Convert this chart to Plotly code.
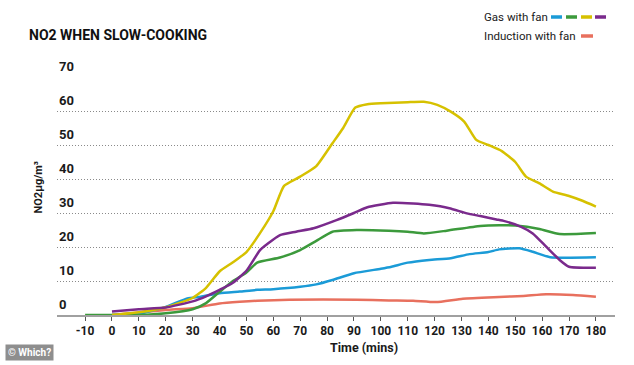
import plotly.graph_objects as go

# ---- data ----
yellow_t = [0, 10, 20, 30, 35, 40, 45, 50, 55, 60, 64, 70, 76, 82, 86, 90.5, 95, 100, 110, 116, 121, 126, 131, 135.5, 140, 145, 150, 154, 159, 164, 170, 175, 180]
yellow_v = [0, 0.8, 2.3, 5, 8, 12.8, 15.5, 18.5, 24, 30.5, 38, 40.7, 43.8, 50.5, 55, 61, 62, 62.3, 62.6, 62.7, 61.8, 59.8, 56.9, 51.5, 50, 48.2, 45, 40.7, 38.7, 36.3, 35, 33.6, 31.9]

purple_t = [0, 10, 20, 30, 35, 40, 45, 50, 55, 58, 62.5, 68.5, 75, 83.5, 90, 95, 104.5, 112, 118, 125.5, 132, 137, 143, 146, 152, 156.5, 161.5, 166.5, 170, 180]
purple_v = [1, 1.7, 2.2, 4, 5.5, 7.4, 9.5, 13, 19, 21, 23.5, 24.5, 25.5, 27.9, 30, 31.7, 33, 32.8, 32.4, 31.4, 29.9, 29.1, 28.1, 27.6, 26, 24, 20.1, 16.2, 14.2, 13.9]

green_t = [-10, 0, 10, 20, 30, 35, 40, 45, 50, 54, 62.5, 70, 76, 82, 91, 103, 110, 116, 124.5, 137, 144, 150, 159, 166.5, 180]
green_v = [0, 0, 0, 0.5, 1.7, 3.5, 6.8, 10, 12.5, 15.4, 16.9, 19.1, 21.8, 24.5, 25, 24.8, 24.5, 24, 24.8, 26.2, 26.4, 26.3, 25.3, 23.8, 24.1]

blue_t = [0, 10, 20, 28, 33, 40, 47.5, 54, 60, 70, 76, 82, 90, 100, 104, 110, 118, 126, 133, 140, 144, 151.5, 156.5, 163, 180]
blue_v = [0, 0.4, 2.4, 4.9, 5.4, 6.4, 6.9, 7.4, 7.6, 8.3, 9, 10.3, 12.3, 13.6, 14.2, 15.4, 16.2, 16.7, 17.9, 18.5, 19.3, 19.6, 18.6, 17, 17]

red_t = [0, 10, 20, 30, 40, 47.5, 54, 66, 91, 103, 112, 120.5, 130.5, 144, 153, 161.5, 171.5, 180]
red_v = [0, 0.7, 1.5, 2, 3.4, 3.9, 4.2, 4.5, 4.5, 4.3, 4.2, 3.8, 4.8, 5.3, 5.6, 6.1, 5.9, 5.4]

x_ticks = list(range(-10, 181, 10))
y_ticks = [0, 10, 20, 30, 40, 50, 60, 70]

C_BLUE = "#1b9bd7"
C_GREEN = "#3c9a3c"
C_YELLOW = "#d6c100"
C_PURPLE = "#7a2a8c"
C_RED = "#e8705e"

series = [
    ("Induction with fan", red_t, red_v, C_RED),
    ("Gas with fan (blue)", blue_t, blue_v, C_BLUE),
    ("Gas with fan (green)", green_t, green_v, C_GREEN),
    ("Gas with fan (yellow)", yellow_t, yellow_v, C_YELLOW),
    ("Gas with fan (purple)", purple_t, purple_v, C_PURPLE),
]

fig = go.Figure()
for name, t, v, c in series:
    fig.add_trace(go.Scatter(x=t, y=v, mode="lines", name=name,
                             line=dict(color=c, width=2.5, shape="spline", smoothing=0.5),
                             showlegend=False, hoverinfo="skip"))

W, H = 634, 365
L, R, T, B = 57, 19, 77, 50
pw, ph = W - L - R, H - T - B

def px(xp):
    return (xp - L) / pw

def py(yp):
    return (H - B - yp) / ph

TXT = "#1a1a1a"
fig.update_layout(
    width=W, height=H,
    margin=dict(l=L, r=R, t=T, b=B, autoexpand=False),
    paper_bgcolor="white", plot_bgcolor="white",
    font=dict(family="Roboto, Liberation Sans, sans-serif", color=TXT),
    title=dict(text="NO2 WHEN SLOW-COOKING", x=29 / W, xanchor="left", y=1 - 35 / H, yanchor="middle",
               font=dict(family="Roboto, sans-serif", size=14, weight="bold", color="#111")),
)
fig.update_xaxes(range=[-20.45, 187.1], tickvals=x_ticks, ticktext=[str(v) for v in x_ticks],
                 showgrid=False, zeroline=False, showline=True, linecolor="#a0a0a0", linewidth=2,
                 ticks="outside", ticklen=4, tickcolor="#555", tickwidth=1,
                 tickfont=dict(size=12, weight="bold", color=TXT))
fig.update_yaxes(range=[0, 70], tickvals=y_ticks, showticklabels=False, showgrid=True,
                 gridcolor="#8a8a8a", griddash="1px,2px", gridwidth=1, zeroline=False, showline=False)

# y tick labels above gridlines
for v in y_ticks:
    fig.add_annotation(x=0, xref="paper", xanchor="left", y=v, yref="y", yanchor="middle", yshift=11,
                       text=str(v), showarrow=False, font=dict(size=13, weight="bold", color=TXT))

# axis titles
fig.add_annotation(x=px(364), y=py(347), xref="paper", yref="paper", yanchor="middle", text="Time (mins)",
                   showarrow=False, font=dict(size=12.5, weight="bold", color=TXT))
fig.add_annotation(x=px(29), y=py(188), xref="paper", yref="paper", text="NO2µg/m³", textangle=-90,
                   showarrow=False, font=dict(size=11, weight="bold", color=TXT))

# legend
LEG_FONT = dict(family="Roboto, sans-serif", size=11.5, color=TXT)
fig.add_annotation(x=px(483), y=py(17), xref="paper", yref="paper", xanchor="left", yanchor="middle",
                   text="Gas with fan", showarrow=False, font=LEG_FONT, borderpad=0)
fig.add_annotation(x=px(483), y=py(36), xref="paper", yref="paper", xanchor="left", yanchor="middle",
                   text="Induction with fan", showarrow=False, font=LEG_FONT, borderpad=0)
gas_swatches = [(551, C_BLUE), (566, C_GREEN), (581, C_YELLOW), (595, C_PURPLE)]
for x0, c in gas_swatches:
    fig.add_shape(type="line", xref="paper", yref="paper", x0=px(x0), x1=px(x0 + 11), y0=py(17), y1=py(17),
                  line=dict(color=c, width=3.5))
fig.add_shape(type="line", xref="paper", yref="paper", x0=px(581), x1=px(593), y0=py(36), y1=py(36),
              line=dict(color=C_RED, width=3.5))

# watermark
fig.add_annotation(x=px(5), y=py(353), xref="paper", yref="paper", xanchor="left", yanchor="middle",
                   text="© Which?", showarrow=False, bgcolor="#8e8e8e", borderpad=2,
                   font=dict(size=10, weight="bold", color="white"))

fig.write_html("out.html", config={"displayModeBar": False},
               post_script="document.body.style.margin='0';document.body.style.overflow='hidden';")
